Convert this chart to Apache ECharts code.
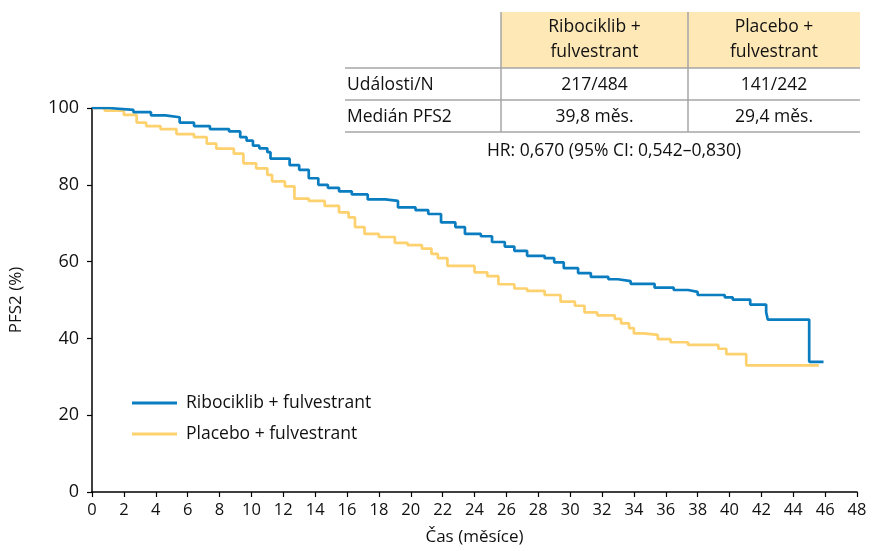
<!DOCTYPE html>
<html>
<head>
<meta charset="utf-8">
<script src="https://cdn.jsdelivr.net/npm/echarts@6/dist/echarts.min.js"></script>
<style>
html,body{margin:0;padding:0;background:#fff;}
#chart{width:880px;height:551px;}
</style>
</head>
<body>
<div id="chart"></div>
<script>
// ---- data ----
var seriesNames = ['Ribociklib + fulvestrant', 'Placebo + fulvestrant'];
var xTicks = [0, 48, 2];
var yTicks = [0, 100, 20];

var riboTime = [0, 1.05, 2.6, 3.7, 4.6, 5.5, 6.4, 7.4, 8.6, 9.3, 9.7, 10.1, 10.5, 11.0, 11.2, 12.4, 13.0, 13.6, 14.2, 14.8, 15.5, 16.3, 17.3, 18.4, 19.2, 20.3, 21.1, 21.9, 22.8, 23.4, 24.4, 25.1, 25.9, 26.5, 27.3, 28.4, 29.0, 29.6, 30.5, 31.3, 32.4, 33.0, 33.8, 35.3, 36.5, 37.4, 38.0, 39.7, 40.2, 41.3, 42.3, 42.4, 45.0, 45.9];
var riboSurv = [100, 99.5, 98.9, 98.1, 97.6, 96.2, 95.3, 94.5, 93.9, 92.4, 91.5, 90.2, 89.5, 88.5, 86.8, 85.1, 83.9, 81.7, 80.0, 79.2, 78.3, 77.5, 76.2, 75.8, 74.1, 73.4, 72.4, 70.2, 69.0, 67.2, 66.6, 65.1, 63.9, 62.8, 61.5, 60.9, 59.8, 58.3, 57.0, 56.0, 55.4, 54.9, 54.2, 53.2, 52.6, 52.1, 51.3, 50.7, 50.1, 48.8, 46.8, 44.9, 33.9, 33.9];

var placTime = [0, 0.8, 2.0, 2.8, 3.4, 4.3, 5.3, 6.4, 7.2, 7.8, 8.9, 9.5, 10.3, 11.0, 11.3, 12.1, 12.7, 13.6, 14.6, 15.5, 16.1, 16.5, 17.1, 18.0, 19.0, 19.8, 20.7, 21.3, 21.7, 22.3, 24.0, 24.8, 25.5, 26.5, 27.3, 28.4, 29.4, 30.3, 30.9, 31.7, 32.8, 33.2, 33.7, 34.0, 34.6, 35.5, 36.3, 37.4, 39.3, 39.8, 41.05, 45.6];
var placSurv = [100, 99.3, 98.2, 96.2, 95.3, 94.5, 93.2, 92.4, 90.7, 89.4, 88.1, 85.6, 84.3, 82.6, 80.9, 79.6, 76.4, 75.8, 74.5, 72.8, 71.5, 69.0, 67.2, 66.4, 64.9, 64.3, 63.4, 62.0, 60.9, 58.9, 57.2, 56.2, 54.1, 53.0, 52.4, 51.3, 49.6, 48.5, 46.8, 46.0, 45.1, 43.9, 42.7, 41.3, 40.9, 39.8, 39.0, 38.3, 37.3, 35.9, 33.0, 33.0];

var tableHeader = ['Ribociklib +\nfulvestrant', 'Placebo +\nfulvestrant'];
var tableRowLabels = ['Události/N', 'Medián PFS2'];
var tableRibo = ['217/484', '39,8 měs.'];
var tablePlac = ['141/242', '29,4 měs.'];
var hrText = 'HR: 0,670 (95% CI: 0,542–0,830)';
var xAxisName = 'Čas (měsíce)';
var yAxisName = 'PFS2 (%)';

function pairs(t, s) { return t.map(function (v, i) { return [v, s[i]]; }); }

var FONT = 'Open Sans';
var chart = echarts.init(document.getElementById('chart'), null, { renderer: 'canvas' });

var tL = 345, tC1 = 501, tC2 = 688, tR = 860;
var gridLine = '#a6a6a6';
var fnt = '17.5px "' + FONT + '"';
var graphics = [
  { type: 'rect', shape: { x: tC1, y: 12, width: tR - tC1, height: 56 }, style: { fill: '#fde8b6' }, z: 1 },
  { type: 'line', shape: { x1: tC1, y1: 12, x2: tC1, y2: 132 }, style: { stroke: gridLine, lineWidth: 1.5 }, z: 2 },
  { type: 'line', shape: { x1: tC2, y1: 12, x2: tC2, y2: 132 }, style: { stroke: gridLine, lineWidth: 1.5 }, z: 2 },
  { type: 'line', shape: { x1: tL, y1: 68, x2: tR, y2: 68 }, style: { stroke: gridLine, lineWidth: 1.5 }, z: 2 },
  { type: 'line', shape: { x1: tL, y1: 100, x2: tR, y2: 100 }, style: { stroke: gridLine, lineWidth: 1.5 }, z: 2 },
  { type: 'line', shape: { x1: tL, y1: 132, x2: tR, y2: 132 }, style: { stroke: gridLine, lineWidth: 1.5 }, z: 2 },
  { type: 'text', x: (tC1 + tC2) / 2, y: 40, style: { text: tableHeader[0], font: fnt, fill: '#111', align: 'center', verticalAlign: 'middle', lineHeight: 25 }, z: 3 },
  { type: 'text', x: (tC2 + tR) / 2, y: 40, style: { text: tableHeader[1], font: fnt, fill: '#111', align: 'center', verticalAlign: 'middle', lineHeight: 25 }, z: 3 }
];
var rowY = [85, 117];
for (var i = 0; i < tableRowLabels.length; i++) {
  graphics.push({ type: 'text', x: 347, y: rowY[i], style: { text: tableRowLabels[i], font: fnt, fill: '#111', align: 'left', verticalAlign: 'middle' }, z: 3 });
  graphics.push({ type: 'text', x: (tC1 + tC2) / 2, y: rowY[i], style: { text: tableRibo[i], font: fnt, fill: '#111', align: 'center', verticalAlign: 'middle' }, z: 3 });
  graphics.push({ type: 'text', x: (tC2 + tR) / 2, y: rowY[i], style: { text: tablePlac[i], font: fnt, fill: '#111', align: 'center', verticalAlign: 'middle' }, z: 3 });
}
graphics.push({ type: 'text', x: 614, y: 151, style: { text: hrText, font: fnt, fill: '#111', align: 'center', verticalAlign: 'middle' }, z: 3 });

chart.setOption({
  animation: false,
  backgroundColor: '#ffffff',
  grid: { left: 92, right: 23, top: 108, bottom: 56, containLabel: false },
  xAxis: {
    type: 'value', min: xTicks[0], max: xTicks[1], interval: xTicks[2],
    name: xAxisName, nameLocation: 'middle', nameGap: 37,
    nameTextStyle: { fontFamily: FONT, fontSize: 17, color: '#111' },
    axisLine: { show: true, lineStyle: { color: '#000', width: 1.5 } },
    axisTick: { show: true, length: 5, lineStyle: { color: '#000', width: 1.2 } },
    axisLabel: { fontFamily: FONT, fontSize: 16.5, color: '#111', margin: 10 },
    splitLine: { show: false }
  },
  yAxis: {
    type: 'value', min: yTicks[0], max: yTicks[1], interval: yTicks[2],
    name: yAxisName, nameLocation: 'middle', nameGap: 67, nameRotate: 90,
    nameTextStyle: { fontFamily: FONT, fontSize: 17, color: '#111' },
    axisLine: { show: true, lineStyle: { color: '#000', width: 1.5 } },
    axisTick: { show: true, length: 5, lineStyle: { color: '#000', width: 1.2 } },
    axisLabel: { fontFamily: FONT, fontSize: 18, color: '#111', margin: 13 },
    splitLine: { show: false }
  },
  legend: {
    orient: 'vertical', left: 127, top: 389, itemWidth: 45, itemHeight: 3, itemGap: 13,
    icon: 'rect',
    textStyle: { fontFamily: FONT, fontSize: 17.5, color: '#111', padding: [0, 0, 0, 4] },
    data: seriesNames
  },
  graphic: graphics,
  series: [
    { name: seriesNames[0], type: 'line', step: 'end', symbol: 'none', data: pairs(riboTime, riboSurv), lineStyle: { color: '#0a7dc1', width: 2.7 }, itemStyle: { color: '#0a7dc1' }, z: 4 },
    { name: seriesNames[1], type: 'line', step: 'end', symbol: 'none', data: pairs(placTime, placSurv), lineStyle: { color: '#fdd16e', width: 2.7 }, itemStyle: { color: '#fdd16e' }, z: 3 }
  ]
});
</script>
</body>
</html>
